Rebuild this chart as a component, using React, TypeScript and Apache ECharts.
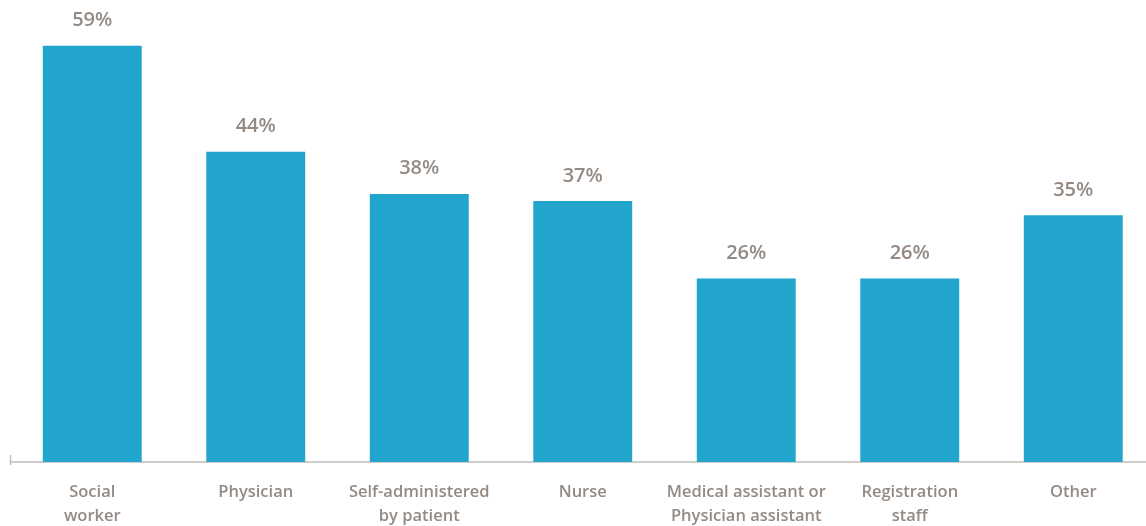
import React, { useEffect, useRef } from "react";
import * as echarts from "echarts";

const categories = [
  "Social\nworker",
  "Physician",
  "Self-administered\nby patient",
  "Nurse",
  "Medical assistant or\nPhysician assistant",
  "Registration\nstaff",
  "Other",
];
const values = [59, 44, 38, 37, 26, 26, 35];

export default function App() {
  const ref = useRef<HTMLDivElement>(null);
  useEffect(() => {
    if (!ref.current) return;
    const chart = echarts.init(ref.current, null, { renderer: "svg" });
    const gray = "#958a83";
    chart.setOption({
      animation: false,
      grid: { left: 10.5, right: 0, top: 0, bottom: 61, containLabel: false },
      xAxis: {
        type: "category",
        data: categories,
        axisLine: { show: true, lineStyle: { color: "#c4bcb6", width: 1.5 } },
        axisTick: { show: false },
        axisLabel: {
          interval: 0,
          color: gray,
          fontFamily: "Open Sans",
          fontWeight: 600,
          fontSize: 16.5,
          lineHeight: 24,
          margin: 16,
        },
      },
      yAxis: {
        type: "value",
        min: 0,
        max: 65.5,
        show: false,
      },
      graphic: [
        {
          type: "line",
          shape: { x1: 10.5, y1: 455, x2: 10.5, y2: 465 },
          style: { stroke: "#c4bcb6", lineWidth: 1.5 },
        },
      ],
      series: [
        {
          type: "bar",
          data: values,
          barCategoryGap: "39.5%",
          itemStyle: { color: "#21a5cc" },
          label: {
            show: true,
            position: "top",
            distance: 17,
            formatter: "{c}%",
            color: gray,
            fontFamily: "Open Sans",
            fontWeight: 600,
            fontSize: 20,
          },
        },
      ],
    });
    return () => chart.dispose();
  }, []);
  return (
    <div style={{ position: "fixed", left: 0, top: 0, width: 1146, height: 526, overflow: "hidden" }}>
      <div ref={ref} style={{ width: 1155, height: 526 }} />
    </div>
  );
}
